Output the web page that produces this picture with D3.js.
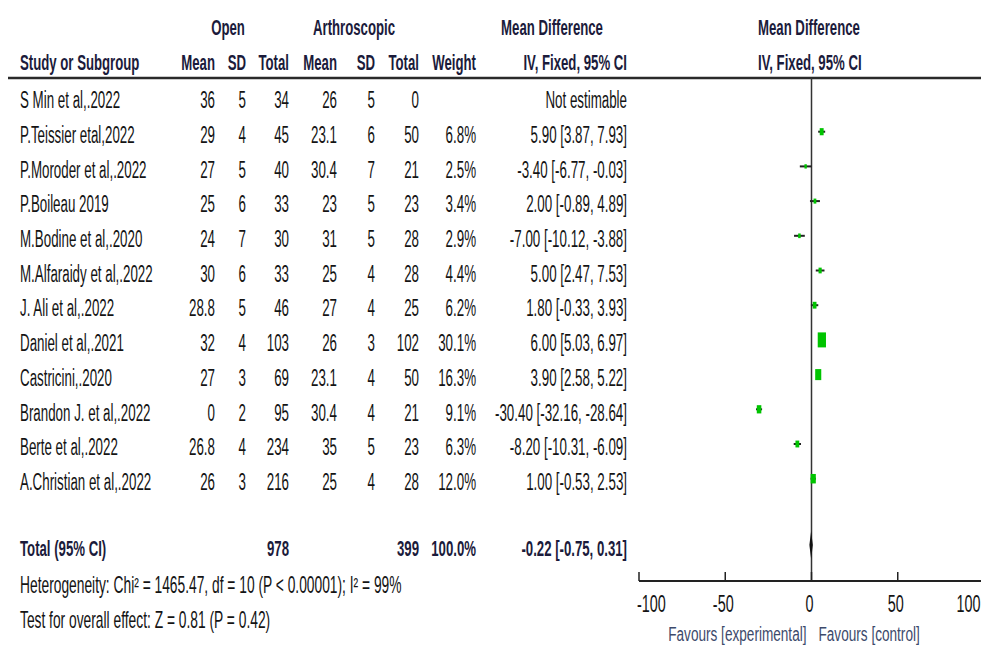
<!DOCTYPE html>
<html>
<head>
<meta charset="utf-8">
<script src="https://cdn.jsdelivr.net/npm/d3@7"></script>
<style>
  html, body { margin: 0; padding: 0; background: #fff; }
  svg { display: block; }
</style>
</head>
<body>
<script>
// ---- study data ----
const studies = ["S Min et al,.2022", "P.Teissier etal,2022", "P.Moroder et al,.2022", "P.Boileau 2019",
  "M.Bodine et al,.2020", "M.Alfaraidy et al,.2022", "J. Ali et al,.2022", "Daniel et al,.2021",
  "Castricini,.2020", "Brandon J. et al,.2022", "Berte et al,.2022", "A.Christian et al,.2022"];
const openMean = ["36", "29", "27", "25", "24", "30", "28.8", "32", "27", "0", "26.8", "26"];
const openSD = [5, 4, 5, 6, 7, 6, 5, 4, 3, 2, 4, 3];
const openTotal = [34, 45, 40, 33, 30, 33, 46, 103, 69, 95, 234, 216];
const arthMean = ["26", "23.1", "30.4", "23", "31", "25", "27", "26", "23.1", "30.4", "35", "25"];
const arthSD = [5, 6, 7, 5, 5, 4, 4, 3, 4, 4, 5, 4];
const arthTotal = [0, 50, 21, 23, 28, 28, 25, 102, 50, 21, 23, 28];
const weights = [null, 6.8, 2.5, 3.4, 2.9, 4.4, 6.2, 30.1, 16.3, 9.1, 6.3, 12.0];
const meanDiff = [null, 5.90, -3.40, 2.00, -7.00, 5.00, 1.80, 6.00, 3.90, -30.40, -8.20, 1.00];
const ciLow = [null, 3.87, -6.77, -0.89, -10.12, 2.47, -0.33, 5.03, 2.58, -32.16, -10.31, -0.53];
const ciHigh = [null, 7.93, -0.03, 4.89, -3.88, 7.53, 3.93, 6.97, 5.22, -28.64, -6.09, 2.53];

// ---- pooled result ----
const totalOpen = 978;
const totalArth = 399;
const totalWeight = 100.0;
const pooled = { md: -0.22, lo: -0.75, hi: 0.31 };
const heterogeneity = "Heterogeneity: Chi\u00B2 = 1465.47, df = 10 (P < 0.00001); I\u00B2 = 99%";
const overallTest = "Test for overall effect: Z = 0.81 (P = 0.42)";

// ---- axis ----
const axisTicks = [-100, -50, 0, 50, 100];
const favourLeft = "Favours [experimental]";
const favourRight = "Favours [control]";

const W = 981, H = 646;
const svg = d3.select("body").append("svg").attr("width", W).attr("height", H);
svg.append("rect").attr("width", W).attr("height", H).attr("fill", "#fff");

const FONT = "'Liberation Sans', Arial, sans-serif";
const SX = 0.6;          // condensed type
const HEAD = "#1b1b3b";
const INK = "#141414";

function txt(x, y, s, o = {}) {
  const size = o.size || 22;
  const t = svg.append("text")
    .attr("transform", `translate(${x},${y + size * 0.36}) scale(${o.sx || SX},1)`)
    .attr("font-family", FONT)
    .attr("font-size", size)
    .attr("font-weight", o.bold ? "bold" : "normal")
    .attr("fill", o.fill || INK)
    .attr("text-anchor", o.anchor || "start")
    .text(s);
  return t;
}
const BODY = { size: 23, sx: 0.58 };

// column right edges
const col = { study: 20, oMean: 215, oSD: 246, oTot: 289, aMean: 337, aSD: 375, aTot: 419, wt: 476, ci: 627 };

// ---- header ----
txt(228, 27, "Open", { bold: true, fill: HEAD, anchor: "middle" });
txt(354, 27, "Arthroscopic", { bold: true, fill: HEAD, anchor: "middle" });
txt(552, 27, "Mean Difference", { bold: true, fill: HEAD, anchor: "middle" });
txt(758, 27, "Mean Difference", { bold: true, fill: HEAD });
txt(col.study, 62, "Study or Subgroup", { bold: true, fill: HEAD });
txt(col.oMean, 62, "Mean", { bold: true, fill: HEAD, anchor: "end" });
txt(col.oSD, 62, "SD", { bold: true, fill: HEAD, anchor: "end" });
txt(col.oTot, 62, "Total", { bold: true, fill: HEAD, anchor: "end" });
txt(col.aMean, 62, "Mean", { bold: true, fill: HEAD, anchor: "end" });
txt(col.aSD, 62, "SD", { bold: true, fill: HEAD, anchor: "end" });
txt(col.aTot, 62, "Total", { bold: true, fill: HEAD, anchor: "end" });
txt(col.wt, 62, "Weight", { bold: true, fill: HEAD, anchor: "end" });
txt(col.ci, 62, "IV, Fixed, 95% CI", { bold: true, fill: HEAD, anchor: "end" });
txt(758, 62, "IV, Fixed, 95% CI", { bold: true, fill: HEAD });

svg.append("line").attr("x1", 8).attr("x2", W).attr("y1", 78).attr("y2", 78)
  .attr("stroke", "#2a2a2a").attr("stroke-width", 2.5);

// ---- scales ----
const x = d3.scaleLinear().domain([-100, 100]).range([639, 984]);
const y = d3.scalePoint().domain(d3.range(studies.length)).range([100, 481.7]);
const boxH = d3.scaleSqrt().domain([0, 30.1]).range([0, 15]);

const axisY = 581;

// zero line
svg.append("line").attr("x1", x(0)).attr("x2", x(0)).attr("y1", 78).attr("y2", axisY)
  .attr("stroke", "#333").attr("stroke-width", 1.5);

// plain hyphen-minus, as printed in the table
const fmt2 = v => v.toFixed(2);
const fmtW = v => v.toFixed(1);

studies.forEach((s, i) => {
  const cy = y(i);
  txt(col.study, cy, s, BODY);
  txt(col.oMean, cy, openMean[i], { ...BODY, anchor: "end" });
  txt(col.oSD, cy, openSD[i], { ...BODY, anchor: "end" });
  txt(col.oTot, cy, openTotal[i], { ...BODY, anchor: "end" });
  txt(col.aMean, cy, arthMean[i], { ...BODY, anchor: "end" });
  txt(col.aSD, cy, arthSD[i], { ...BODY, anchor: "end" });
  txt(col.aTot, cy, arthTotal[i], { ...BODY, anchor: "end" });
  if (weights[i] == null) {
    txt(col.ci, cy, "Not estimable", { ...BODY, anchor: "end" });
    return;
  }
  txt(col.wt, cy, fmtW(weights[i]) + "%", { ...BODY, anchor: "end" });
  txt(col.ci, cy, `${fmt2(meanDiff[i])} [${fmt2(ciLow[i])}, ${fmt2(ciHigh[i])}]`, { ...BODY, anchor: "end" });

  const my = cy - 3;
  svg.append("line")
    .attr("x1", x(ciLow[i])).attr("x2", x(ciHigh[i]))
    .attr("y1", my).attr("y2", my)
    .attr("stroke", "#222").attr("stroke-width", 2);
  const h = boxH(weights[i]);
  const w = h * 0.55;
  svg.append("rect")
    .attr("x", x(meanDiff[i]) - w / 2).attr("y", my - h / 2)
    .attr("width", w).attr("height", h)
    .attr("fill", "#00c400");
});

// ---- total row ----
const ty = 548;
txt(col.study, ty, "Total (95% CI)", { bold: true, fill: HEAD });
txt(col.oTot, ty, totalOpen, { bold: true, fill: HEAD, anchor: "end" });
txt(col.aTot, ty, totalArth, { bold: true, fill: HEAD, anchor: "end" });
txt(col.wt, ty, fmtW(totalWeight) + "%", { bold: true, fill: HEAD, anchor: "end" });
txt(col.ci, ty, `${fmt2(pooled.md)} [${fmt2(pooled.lo)}, ${fmt2(pooled.hi)}]`, { bold: true, fill: HEAD, anchor: "end" });

const dy = 545, dh = 14;
svg.append("path")
  .attr("d", `M${x(pooled.lo) - 0.8},${dy} L${x(pooled.md)},${dy - dh} L${x(pooled.hi) + 0.8},${dy} L${x(pooled.md)},${dy + dh} Z`)
  .attr("fill", "#111");

txt(col.study, 585, heterogeneity, { size: 23, sx: 0.6 });
txt(col.study, 620, overallTest, { size: 23, sx: 0.6 });

// ---- axis ----
svg.append("line").attr("x1", x(-100)).attr("x2", x(100)).attr("y1", axisY).attr("y2", axisY)
  .attr("stroke", "#222").attr("stroke-width", 2);
svg.selectAll(".tick").data(axisTicks).enter().append("line")
  .attr("x1", d => x(d)).attr("x2", d => x(d))
  .attr("y1", axisY - 9).attr("y2", axisY)
  .attr("stroke", "#222").attr("stroke-width", 1.5);
axisTicks.forEach((t, i) => {
  const last = axisTicks.length - 1;
  const anchor = i === 0 ? "start" : (i === last ? "end" : "middle");
  const px = i === last ? W - 0.5 : x(t) + (i === 0 ? -2 : -2);
  txt(px, 603, t, { anchor, size: 24 });
});
txt(x(0) - 5, 634, favourLeft, { anchor: "end", size: 20, fill: "#3d4a6b", sx: 0.68 });
txt(x(0) + 7, 634, favourRight, { size: 20, fill: "#3d4a6b", sx: 0.68 });
</script>
</body>
</html>
